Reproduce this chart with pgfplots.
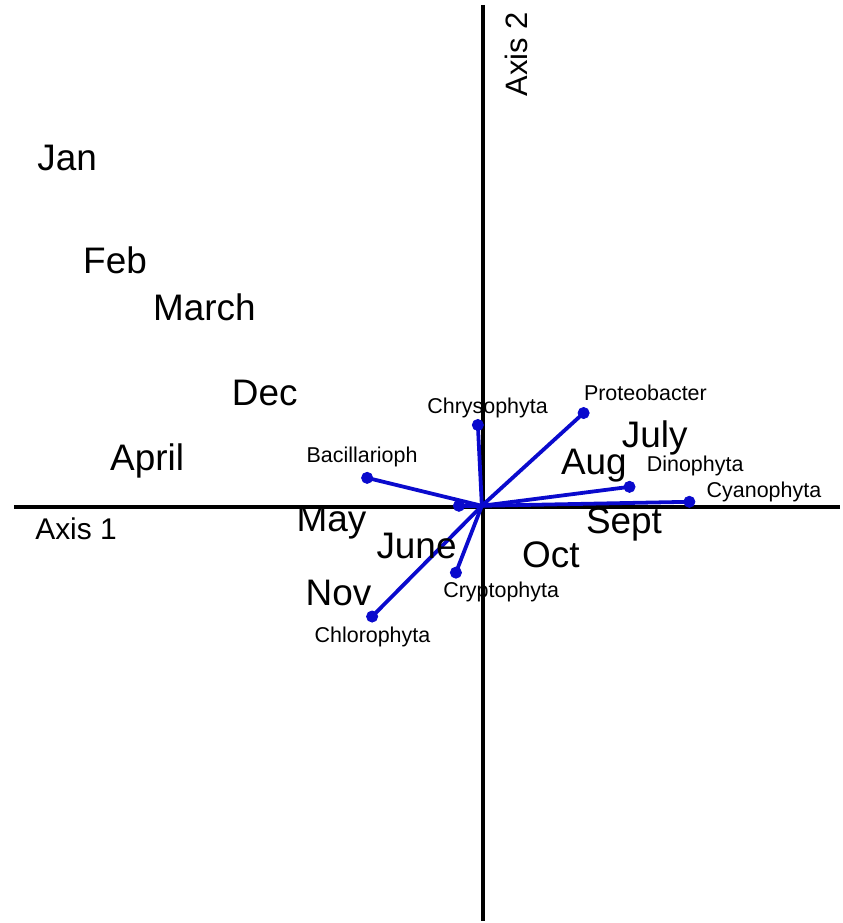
\documentclass[border=0pt]{standalone}
\usepackage{pgfplots}
\pgfplotsset{compat=1.18}
\usepackage{fontspec}
\setmainfont{Liberation Sans}
\definecolor{vecblue}{RGB}{10,10,205}
\begin{document}
\begin{tikzpicture}
\begin{axis}[
  width=421pt, height=461.5pt, scale only axis,
  xmin=0, xmax=842, ymin=0, ymax=923, y dir=reverse,
  hide axis, clip=false,
]
% axes
\addplot[black, line width=2.2pt] coordinates {(14,508) (842,508)};
\addplot[black, line width=2.2pt] coordinates {(484,5) (484,923)};
% vectors
\addplot[vecblue, line width=1.9pt] coordinates {(483,507) (585,414)};
\addplot[vecblue, line width=1.9pt] coordinates {(483,507) (479,426)};
\addplot[vecblue, line width=1.9pt] coordinates {(483,507) (368,479)};
\addplot[vecblue, line width=1.9pt] coordinates {(483,507) (460,507)};
\addplot[vecblue, line width=1.9pt] coordinates {(483,507) (631,488)};
\addplot[vecblue, line width=1.9pt] coordinates {(483,507) (691,503)};
\addplot[vecblue, line width=1.9pt] coordinates {(483,507) (457,574)};
\addplot[vecblue, line width=1.9pt] coordinates {(483,507) (373,618)};
\addplot[only marks, mark=*, mark size=2.8pt, vecblue] coordinates {
  (585,414) (479,426) (368,479) (460,507) (631,488) (691,503) (457,574) (373,618)};
% month labels
\begin{scope}[every node/.style={anchor=base west, inner sep=0pt, font=\fontsize{18.5pt}{20pt}\selectfont}]
\node at (axis cs:37,171) {Jan};
\node at (axis cs:83,274) {Feb};
\node at (axis cs:153,321) {March};
\node at (axis cs:232,406) {Dec};
\node at (axis cs:110,472) {April};
\node at (axis cs:297,533) {May};
\node at (axis cs:377,560) {June};
\node at (axis cs:306,607) {Nov};
\node at (axis cs:523,569) {Oct};
\node at (axis cs:587,535) {Sept};
\node at (axis cs:562,476) {Aug};
\node at (axis cs:623,449) {July};
\end{scope}
% variable labels
\begin{scope}[every node/.style={anchor=base west, inner sep=0pt, font=\fontsize{10.75pt}{12pt}\selectfont}]
\node at (axis cs:428,414) {Chrysophyta};
\node at (axis cs:307,464) {Bacillarioph};
\node at (axis cs:444,599) {Cryptophyta};
\node at (axis cs:315,644) {Chlorophyta};
\node at (axis cs:585,401) {Proteobacter};
\node at (axis cs:648,473) {Dinophyta};
\node at (axis cs:708,499) {Cyanophyta};
\end{scope}
% axis titles
\node[anchor=base west, inner sep=0pt, font=\fontsize{15pt}{17pt}\selectfont] at (axis cs:35,541) {Axis 1};
\node[anchor=base west, inner sep=0pt, rotate=90, font=\fontsize{15.5pt}{17pt}\selectfont] at (axis cs:529,97) {Axis 2};
\path (rel axis cs:0,0) rectangle (rel axis cs:1,1);
\end{axis}
\end{tikzpicture}
\end{document}
